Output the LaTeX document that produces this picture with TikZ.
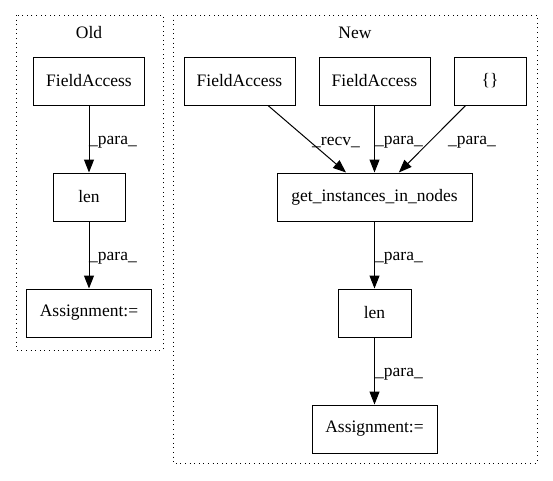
\documentclass[tikz,border=0pt]{standalone}
\usepackage{fontspec}
\setmainfont{Liberation Serif}
\usepackage{tikz}
\usetikzlibrary{arrows.meta,calc}

\begin{document}
\begin{tikzpicture}[x=1pt,y=-1pt,
    font=\fontsize{17.5}{20}\selectfont,
    >={Triangle[length=13pt,width=10pt]},
    box/.style={draw,line width=1pt,minimum height=48pt,inner sep=0pt},
    lbl/.style={inner sep=0pt},
    frame/.style={line width=1pt,dash pattern=on 1pt off 3.6pt}]
    \useasboundingbox (0,0) rectangle (553,480);
    % clusters
    \draw[frame] (16,15) rectangle (163,350);
    \draw[frame] (173,15) rectangle (537,463);
    \node[lbl] (old) at (89,33) {Old};
    \node[lbl] (new) at (355,33) {New};
    % old
    \node[box,minimum width=111pt] (fa0) at (89,81) {FieldAccess};
    \node[box,minimum width=72pt]  (len0) at (89,197) {len};
    \node[box,minimum width=125pt] (as0) at (89,313) {Assignment:=};
    \draw[->,line width=1pt] (fa0)--(len0);
    \draw[->,line width=1pt] (len0)--(as0);
    \node[lbl] (p1) at (113,142) {\_para\_};
    \node[lbl] (p2) at (113,258) {\_para\_};
    % new
    \node[box,minimum width=111pt] (fa1) at (239.5,81) {FieldAccess};
    \node[box,minimum width=111pt] (fa2) at (374.5,81) {FieldAccess};
    \node[box,minimum width=72pt]  (br) at (490,81) {\{\}};
    \node[box,minimum width=195pt] (gin) at (374.5,197) {get\_instances\_in\_nodes};
    \node[box,minimum width=73pt]  (len1) at (374.5,313) {len};
    \node[box,minimum width=125pt] (as1) at (374.5,429) {Assignment:=};
    \draw[->,line width=1pt] (fa1)--(gin);
    \draw[->,line width=1pt] (fa2)--(gin);
    \draw[->,line width=1pt] (br)--(gin);
    \draw[->,line width=1pt] (gin)--(len1);
    \draw[->,line width=1pt] (len1)--(as1);
    \node[lbl] (rc) at (336,142) {\_recv\_};
    \node[lbl] (p3) at (399,142) {\_para\_};
    \node[lbl] (p4) at (472,142) {\_para\_};
    \node[lbl] (p5) at (399,258) {\_para\_};
    \node[lbl] (p6) at (399,374) {\_para\_};
\end{tikzpicture}
\end{document}
